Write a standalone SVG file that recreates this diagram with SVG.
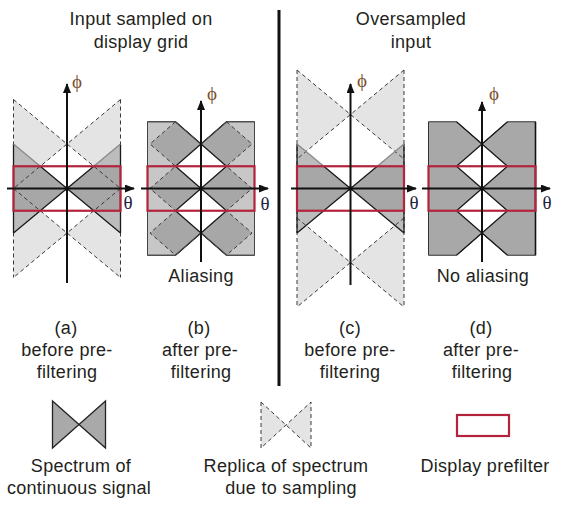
<svg xmlns="http://www.w3.org/2000/svg" width="561" height="508" viewBox="0 0 561 508">
<style>
.t{font-family:"Liberation Sans",Arial,sans-serif;font-size:18px;letter-spacing:0.3px;fill:#231f20;text-anchor:middle}
.g{font-family:"Liberation Serif","DejaVu Serif",serif;font-size:19px;text-anchor:middle}
.phi{fill:#7a4f2a}
.th{fill:#1f2340}
.rep{fill:#e4e4e4;stroke:none}
.bl{fill:#bcbcbc;stroke:none}
.bd{fill:#a7a7a7;stroke:none}
.dash{fill:none;stroke:#3a3a3a;stroke-width:1;stroke-dasharray:4 3}
.edge{fill:none;stroke:#1a1a1a;stroke-width:1.3}
.edgeg{fill:none;stroke:#8a8a8a;stroke-width:1.3}
.pf{fill:none;stroke:#b3243c;stroke-width:2.2}
.ax{fill:none;stroke:#111;stroke-width:2}
.lg{fill:#c7c7c7;stroke:#444;stroke-width:1}
.dk{fill:#a8a8a8;stroke:#333;stroke-width:1}
.wh{fill:#fff;stroke:none}
</style>
<defs>
<marker id="arr" viewBox="0 0 10 8" refX="9" refY="4" markerWidth="10" markerHeight="8" orient="auto" markerUnits="userSpaceOnUse">
<path d="M0,0 L10,4 L0,8 Z" fill="#111"/>
</marker>
</defs>

<g id="titles">
<text class="t" x="141" y="25">Input sampled on</text>
<text class="t" x="141" y="48">display grid</text>
<text class="t" x="411" y="25">Oversampled</text>
<text class="t" x="411" y="48">input</text>
</g>

<line id="separator" x1="279" y1="10" x2="279" y2="386" stroke="#111" stroke-width="3"/>

<!-- Panel (a) -->
<g id="panel-a">
<polygon class="rep" points="67,144 13.5,99.5 13.5,188.5"/>
<polygon class="rep" points="67,144 120.5,99.5 120.5,188.5"/>
<polygon class="rep" points="67,233 13.5,188.5 13.5,277.5"/>
<polygon class="rep" points="67,233 120.5,188.5 120.5,277.5"/>
<polygon class="bl" points="67,188.5 13.5,144 13.5,233"/>
<polygon class="bl" points="67,188.5 120.5,144 120.5,233"/>
<polygon class="bd" points="67,188.5 40.25,166.25 13.5,166.25 13.5,210.75 40.25,210.75"/>
<polygon class="bd" points="67,188.5 93.75,166.25 120.5,166.25 120.5,210.75 93.75,210.75"/>
<path class="dash" d="M13.5,99.5 L120.5,188.5 M120.5,99.5 L13.5,188.5 M13.5,188.5 L120.5,277.5 M120.5,188.5 L13.5,277.5 M13.5,99.5 V277.5 M120.5,99.5 V277.5"/>
<path class="edge" d="M40.25,166.25 L93.75,210.75 M40.25,210.75 L93.75,166.25 M13.5,233 L40.25,210.75 M93.75,210.75 L120.5,233 M13.5,144 V233 M120.5,144 V233"/>
<path class="edgeg" d="M13.5,144 L40.25,166.25 M93.75,166.25 L120.5,144"/>
<rect class="pf" x="13.5" y="166.25" width="107" height="44.5"/>
</g>

<!-- Panel (b) -->
<g id="panel-b">
<polygon class="lg" points="147.5,121.75 175.5,121.75 201,144 226.5,121.75 254.5,121.75 254.5,255.25 226.5,255.25 201,233 175.5,255.25 147.5,255.25"/>
<polygon class="wh" points="201,144 226.5,166.25 201,188.5 175.5,166.25"/>
<polygon class="wh" points="201,188.5 226.5,210.75 201,233 175.5,210.75"/>
<polygon class="bd" points="175.5,121.75 201,144 175.5,166.25 150,144"/>
<polygon class="bd" points="175.5,166.25 201,188.5 175.5,210.75 150,188.5"/>
<polygon class="bd" points="175.5,210.75 201,233 175.5,255.25 150,233"/>
<polygon class="bd" points="226.5,121.75 252,144 226.5,166.25 201,144"/>
<polygon class="bd" points="226.5,166.25 252,188.5 226.5,210.75 201,188.5"/>
<polygon class="bd" points="226.5,210.75 252,233 226.5,255.25 201,233"/>
<path class="dash" d="M175.5,121.75 L150,144 L175.5,166.25 L150,188.5 L175.5,210.75 L150,233 L175.5,255.25 M226.5,121.75 L252,144 L226.5,166.25 L252,188.5 L226.5,210.75 L252,233 L226.5,255.25"/>
<path class="edge" d="M175.5,121.75 L201,144 L175.5,166.25 L201,188.5 L175.5,210.75 L201,233 L175.5,255.25 M226.5,121.75 L201,144 L226.5,166.25 L201,188.5 L226.5,210.75 L201,233 L226.5,255.25"/>
<polygon fill="none" stroke="#444" stroke-width="1" points="147.5,121.75 175.5,121.75 201,144 226.5,121.75 254.5,121.75 254.5,255.25 226.5,255.25 201,233 175.5,255.25 147.5,255.25"/>
<rect class="pf" x="147.5" y="166.25" width="107" height="44.5"/>
</g>

<!-- Panel (c) -->
<g id="panel-c">
<polygon class="rep" points="350.5,114.5 297,70 297,159"/>
<polygon class="rep" points="350.5,114.5 404,70 404,159"/>
<polygon class="rep" points="350.5,262.5 297,218 297,307"/>
<polygon class="rep" points="350.5,262.5 404,218 404,307"/>
<polygon class="bl" points="350.5,188.5 297,144 297,233"/>
<polygon class="bl" points="350.5,188.5 404,144 404,233"/>
<polygon class="bd" points="350.5,188.5 323.75,166.25 297,166.25 297,210.75 323.75,210.75"/>
<polygon class="bd" points="350.5,188.5 377.25,166.25 404,166.25 404,210.75 377.25,210.75"/>
<path class="dash" d="M297,70 L404,159 M404,70 L297,159 M297,218 L404,307 M404,218 L297,307 M297,70 V307 M404,70 V307"/>
<path class="edge" d="M323.75,166.25 L377.25,210.75 M323.75,210.75 L377.25,166.25 M297,233 L323.75,210.75 M377.25,210.75 L404,233 M297,144 V233 M404,144 V233"/>
<path class="edgeg" d="M297,144 L323.75,166.25 M377.25,166.25 L404,144"/>
<rect class="pf" x="297" y="166.25" width="107" height="44.5"/>
</g>

<!-- Panel (d) -->
<g id="panel-d">
<polygon class="dk" points="428.5,121.75 456.5,121.75 482,144 507.5,121.75 535.5,121.75 535.5,255.25 507.5,255.25 482,233 456.5,255.25 428.5,255.25"/>
<polygon class="wh" points="482,144 507.5,166.25 482,188.5 456.5,166.25"/>
<polygon class="wh" points="482,188.5 507.5,210.75 482,233 456.5,210.75"/>
<path class="edge" d="M456.5,121.75 L482,144 L456.5,166.25 L482,188.5 L456.5,210.75 L482,233 L456.5,255.25 M507.5,121.75 L482,144 L507.5,166.25 L482,188.5 L507.5,210.75 L482,233 L507.5,255.25"/>
<line x1="535.5" y1="121.75" x2="535.5" y2="255.25" stroke="#111" stroke-width="1.6"/>
<rect class="pf" x="428.5" y="166.25" width="107" height="44.5"/>
</g>

<g id="axes">
<line class="ax" x1="67" y1="283" x2="67" y2="84" marker-end="url(#arr)"/>
<line class="ax" x1="7" y1="188.5" x2="134" y2="188.5" marker-end="url(#arr)"/>
<line class="ax" x1="201" y1="262" x2="201" y2="101" marker-end="url(#arr)"/>
<line class="ax" x1="141" y1="188.5" x2="268" y2="188.5" marker-end="url(#arr)"/>
<line class="ax" x1="350.5" y1="285" x2="350.5" y2="84" marker-end="url(#arr)"/>
<line class="ax" x1="291" y1="188.5" x2="416" y2="188.5" marker-end="url(#arr)"/>
<line class="ax" x1="482" y1="262" x2="482" y2="102" marker-end="url(#arr)"/>
<line class="ax" x1="422" y1="188.5" x2="550" y2="188.5" marker-end="url(#arr)"/>
<circle cx="67" cy="188.5" r="2.2" fill="#111"/>
<circle cx="201" cy="188.5" r="2.2" fill="#111"/>
<circle cx="350.5" cy="188.5" r="2.2" fill="#111"/>
<circle cx="482" cy="188.5" r="2.2" fill="#111"/>
<text class="g phi" x="77" y="88">ϕ</text>
<text class="g phi" x="212" y="100">ϕ</text>
<text class="g phi" x="362" y="87">ϕ</text>
<text class="g phi" x="494" y="100">ϕ</text>
<text class="g th" x="128" y="209">θ</text>
<text class="g th" x="265" y="210">θ</text>
<text class="g th" x="414" y="209">θ</text>
<text class="g th" x="547" y="209">θ</text>
</g>

<g id="captions">
<text class="t" x="201" y="282">Aliasing</text>
<text class="t" x="483" y="282">No aliasing</text>
<text class="t" x="66" y="334">(a)</text>
<text class="t" x="67" y="356">before pre-</text>
<text class="t" x="67" y="378">filtering</text>
<text class="t" x="199" y="334">(b)</text>
<text class="t" x="200" y="356">after pre-</text>
<text class="t" x="201" y="378">filtering</text>
<text class="t" x="350" y="334">(c)</text>
<text class="t" x="350" y="356">before pre-</text>
<text class="t" x="350" y="378">filtering</text>
<text class="t" x="481" y="334">(d)</text>
<text class="t" x="481" y="356">after pre-</text>
<text class="t" x="482" y="378">filtering</text>
</g>

<g id="legend-spectrum">
<polygon points="52.5,401 79,424.5 52.5,448" fill="#a9a9a9" stroke="#222" stroke-width="1.3"/>
<polygon points="105.5,401 79,424.5 105.5,448" fill="#a9a9a9" stroke="#222" stroke-width="1.3"/>
<text class="t" x="81" y="472">Spectrum of</text>
<text class="t" x="79" y="494">continuous signal</text>
</g>
<g id="legend-replica">
<polygon points="261,402 286,425 261,448" fill="#e4e4e4"/>
<polygon points="311,402 286,425 311,448" fill="#e4e4e4"/>
<path class="dash" d="M261,402 V448 L311,402 V448 L261,402"/>
<text class="t" x="286" y="472">Replica of spectrum</text>
<text class="t" x="291" y="494">due to sampling</text>
</g>
<g id="legend-prefilter">
<rect class="pf" x="457" y="415" width="52" height="21"/>
<text class="t" x="485" y="472">Display prefilter</text>
</g>
</svg>
